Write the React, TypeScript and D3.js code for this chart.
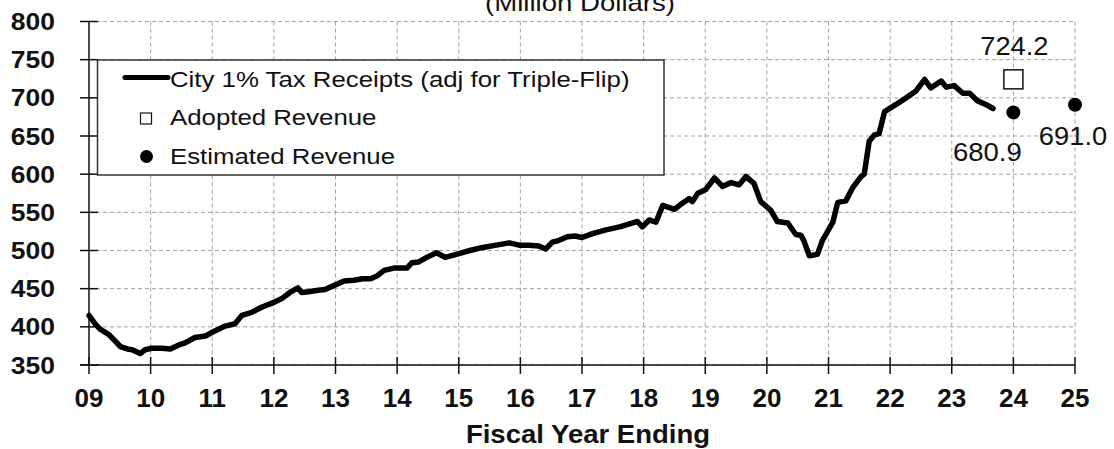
import * as d3 from "d3";
import React from "react";

// City 1% tax receipts (fiscal year, million $)
const receiptYears = [
  9.0, 9.1, 9.18, 9.32, 9.43, 9.51, 9.62, 9.7, 9.83, 9.91,
  10.02, 10.18, 10.32, 10.45, 10.56, 10.72, 10.89, 11.05, 11.21, 11.37,
  11.48, 11.64, 11.81, 11.97, 12.13, 12.26, 12.39, 12.45, 12.56, 12.72,
  12.83, 12.97, 13.14, 13.3, 13.44, 13.57, 13.68, 13.79, 13.95, 14.16,
  14.24, 14.35, 14.48, 14.64, 14.78, 14.96, 15.18, 15.39, 15.61, 15.82,
  15.98, 16.14, 16.3, 16.41, 16.52, 16.62, 16.76, 16.89, 17.0, 17.17,
  17.39, 17.61, 17.77, 17.9, 17.98, 18.09, 18.2, 18.31, 18.5, 18.63,
  18.74, 18.79, 18.88, 19.01, 19.15, 19.28, 19.42, 19.55, 19.66, 19.79,
  19.9, 20.06, 20.17, 20.34, 20.47, 20.55, 20.6, 20.69, 20.82, 20.9,
  21.07, 21.15, 21.28, 21.39, 21.53, 21.58, 21.66, 21.74, 21.82, 21.91,
  22.09, 22.26, 22.42, 22.56, 22.66, 22.83, 22.91, 23.04, 23.18, 23.29,
  23.42, 23.56, 23.67,
];
const receiptValues = [
  415, 404, 397, 390, 381, 374, 371, 370, 365, 370,
  372, 372, 371, 376, 379, 386, 388, 395, 401, 404,
  415, 419, 426, 431, 437, 445, 451, 445, 446, 448,
  449, 454, 460, 461, 463, 463, 467, 474, 477, 477,
  484, 485, 491, 497, 491, 495, 500, 504, 507, 510,
  507, 507, 506, 502, 511, 513, 518, 519, 517, 522,
  527, 531, 535, 538, 531, 540, 537, 559, 554, 562,
  568, 564, 575, 580, 595, 584, 589, 586, 597, 588,
  564, 553, 538, 536, 521, 520, 513, 493, 495, 513,
  537, 563, 565, 582, 597, 600, 643, 651, 653, 682,
  691, 700, 709, 724, 713, 722, 714, 716, 706, 706,
  696, 691, 686,
];

const adoptedYears = [24];
const adoptedValues = [724.2];
const estimatedYears = [24, 25];
const estimatedValues = [680.9, 691.0];

const xTicks = d3.range(9, 26);
const yTicks = d3.range(350, 801, 50);

const legendLabels = [
  "City 1% Tax Receipts (adj for Triple-Flip)",
  "Adopted Revenue",
  "Estimated Revenue",
];

const FONT = "'Liberation Sans', Arial, sans-serif";

// stretched text helper (the source image is a bit wider than tall)
function SText({ x, y, sx = 1, anchor = "start", size, weight = "normal", children }: any) {
  return (
    <text
      transform={`translate(${x},${y}) scale(${sx},1)`}
      textAnchor={anchor}
      fontSize={size}
      fontWeight={weight}
      fontFamily={FONT}
      fill="#111"
    >
      {children}
    </text>
  );
}

export default function App() {
  const width = 1114;
  const height = 449;

  const x = d3.scaleLinear().domain([9, 25]).range([89, 1075]);
  const y = d3.scaleLinear().domain([350, 800]).range([365, 21.5]);

  const points = receiptYears.map((yr, i) => [yr, receiptValues[i]] as [number, number]);
  const line = d3.line<[number, number]>()
    .x(d => x(d[0]))
    .y(d => y(d[1]));

  const grid = "#a0a0a0";

  return (
    <svg
      width={width}
      height={height}
      style={{ position: "absolute", left: 0, top: 0, background: "#fff" }}
    >
      <rect width={width} height={height} fill="#fff" />

      {/* title, cut off at the top like the source */}
      <SText x={580} y={11} anchor="middle" size={23} sx={1.2}>(Million Dollars)</SText>

      {/* grid */}
      {yTicks.map(t => (
        <line key={"gy" + t} x1={x(9)} x2={x(25)} y1={y(t)} y2={y(t)}
          stroke={grid} strokeWidth={1} strokeDasharray="4,3" />
      ))}
      {xTicks.slice(1).map(t => (
        <line key={"gx" + t} x1={x(t)} x2={x(t)} y1={y(800)} y2={y(350)}
          stroke={grid} strokeWidth={1} strokeDasharray="4,3" />
      ))}

      {/* axes */}
      <line x1={x(9)} x2={x(9)} y1={y(800)} y2={y(350)} stroke="#111" strokeWidth={1.5} />
      <line x1={x(9) - 9} x2={x(25)} y1={y(350)} y2={y(350)} stroke="#111" strokeWidth={1.5} />
      {yTicks.map(t => (
        <line key={"ty" + t} x1={x(9) - 9} x2={x(9) + 9} y1={y(t)} y2={y(t)} stroke="#111" strokeWidth={1.5} />
      ))}
      {xTicks.map(t => (
        <line key={"tx" + t} x1={x(t)} x2={x(t)} y1={y(350) - 8} y2={y(350) + 9} stroke="#111" strokeWidth={1.5} />
      ))}
      {yTicks.map(t => (
        <SText key={"ly" + t} x={55} y={y(t) + 8.5} anchor="end" size={24.5} sx={1.08} weight="bold">{t}</SText>
      ))}
      {xTicks.map(t => (
        <SText key={"lx" + t} x={x(t)} y={407} anchor="middle" size={26} weight="bold">
          {d3.format("02d")(t)}
        </SText>
      ))}
      <SText x={588} y={443} anchor="middle" size={25.5} sx={1.08} weight="bold">Fiscal Year Ending</SText>

      {/* receipts line */}
      <path d={line(points) ?? ""} fill="none" stroke="#000" strokeWidth={5.5}
        strokeLinejoin="round" strokeLinecap="round" />

      {/* adopted / estimated */}
      {adoptedYears.map((yr, i) => (
        <rect key={"a" + i} x={x(yr) - 9.5} y={y(adoptedValues[i]) - 9.5} width={19} height={19}
          fill="#fff" stroke="#111" strokeWidth={1.5} />
      ))}
      {estimatedYears.map((yr, i) => (
        <circle key={"e" + i} cx={x(yr)} cy={y(estimatedValues[i])} r={7} fill="#000" />
      ))}
      <SText x={x(24) + 1} y={55} anchor="middle" size={26} sx={1.05}>{d3.format(".1f")(adoptedValues[0])}</SText>
      <SText x={x(24) - 26} y={161} anchor="middle" size={25} sx={1.1}>{d3.format(".1f")(estimatedValues[0])}</SText>
      <SText x={x(25) - 2} y={145} anchor="middle" size={26} sx={1.05}>{d3.format(".1f")(estimatedValues[1])}</SText>

      {/* legend */}
      <rect x={97.5} y={60} width={566.5} height={115} fill="#fff" stroke="#333" strokeWidth={1.5} />
      <line x1={125} x2={168} y1={77.5} y2={77.5} stroke="#000" strokeWidth={5} strokeLinecap="round" />
      <rect x={140.5} y={113} width={11} height={11} fill="#fff" stroke="#111" strokeWidth={1.2} />
      <circle cx={146.5} cy={156.5} r={6.5} fill="#000" />
      <SText x={170} y={86.5} size={21.5} sx={1.2}>{legendLabels[0]}</SText>
      <SText x={170} y={125} size={21.5} sx={1.2}>{legendLabels[1]}</SText>
      <SText x={170} y={163.5} size={21.5} sx={1.2}>{legendLabels[2]}</SText>
    </svg>
  );
}
